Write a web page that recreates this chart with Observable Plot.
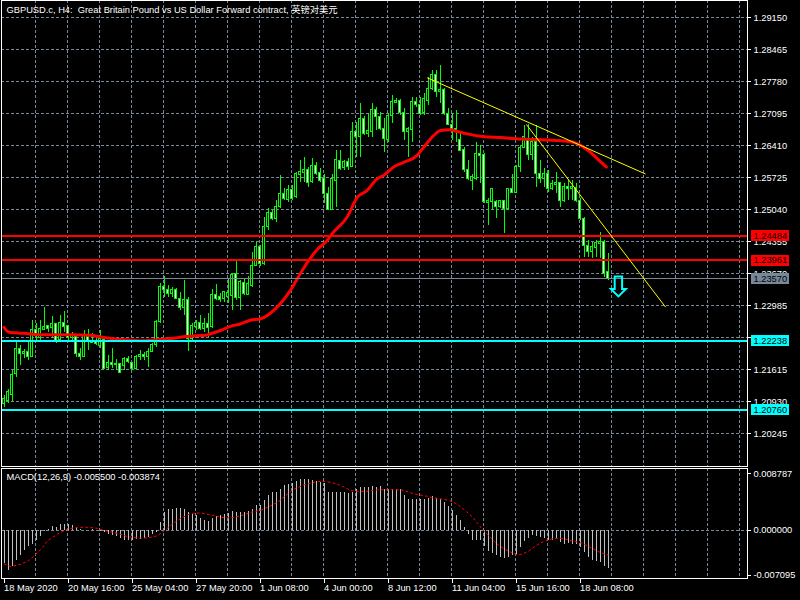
<!DOCTYPE html>
<html><head><meta charset="utf-8">
<script src="https://cdn.jsdelivr.net/npm/d3@7"></script>
<script src="https://cdn.jsdelivr.net/npm/@observablehq/plot@0.6"></script>
<style>
html,body{margin:0;padding:0;background:#000;}
#wrap{position:relative;width:800px;height:600px;overflow:hidden;background:#000;}
#wrap svg{position:absolute;left:0;display:block;}
</style></head><body><div id="wrap"></div>
<script>
// ---- DATA ----
const chartTitle = "GBPUSD.c, H4:  Great Britain Pound vs US Dollar Forward contract, 英镑对美元";
const macdTitle = "MACD(12,26,9) -0.005500 -0.003874";

const open = [1.2089,1.2096,1.2107,1.2153,1.2207,1.2196,1.2200,1.2189,1.2248,1.2230,
1.2248,1.2255,1.2252,1.2259,1.2225,1.2263,1.2255,1.2230,1.2233,1.2196,
1.2189,1.2232,1.2219,1.2222,1.2212,1.2226,1.2165,1.2176,1.2172,1.2175,
1.2170,1.2185,1.2177,1.2164,1.2189,1.2194,1.2189,1.2200,1.2214,1.2264,
1.2339,1.2333,1.2325,1.2332,1.2314,1.2295,1.2312,1.2228,1.2253,1.2263,
1.2250,1.2259,1.2253,1.2323,1.2317,1.2314,1.2317,1.2320,1.2366,1.2316,
1.2348,1.2323,1.2342,1.2385,1.2424,1.2389,1.2467,1.2497,1.2485,1.2510,
1.2539,1.2526,1.2546,1.2532,1.2578,1.2584,1.2590,1.2563,1.2599,1.2584,
1.2570,1.2539,1.2503,1.2567,1.2608,1.2594,1.2606,1.2596,1.2671,1.2661,
1.2699,1.2667,1.2670,1.2719,1.2703,1.2678,1.2653,1.2706,1.2733,1.2737,
1.2711,1.2671,1.2675,1.2735,1.2728,1.2711,1.2738,1.2764,1.2792,1.2756,
1.2760,1.2710,1.2687,1.2678,1.2653,1.2633,1.2589,1.2567,1.2570,1.2624,
1.2621,1.2519,1.2522,1.2521,1.2510,1.2523,1.2507,1.2548,1.2540,1.2595,
1.2637,1.2653,1.2621,1.2649,1.2581,1.2571,1.2581,1.2549,1.2557,1.2561,
1.2524,1.2553,1.2549,1.2551,1.2524,1.2485,1.2428,1.2414,1.2422,1.2432,
1.2435,1.2371];
const high = [1.2107,1.2119,1.2161,1.2225,1.2214,1.2205,1.2221,1.2267,1.2260,1.2267,
1.2296,1.2257,1.2276,1.2260,1.2278,1.2287,1.2257,1.2242,1.2235,1.2207,
1.2246,1.2248,1.2239,1.2232,1.2246,1.2228,1.2193,1.2207,1.2183,1.2176,
1.2189,1.2190,1.2178,1.2193,1.2203,1.2198,1.2207,1.2219,1.2267,1.2346,
1.2362,1.2342,1.2339,1.2335,1.2328,1.2353,1.2316,1.2260,1.2267,1.2278,
1.2271,1.2282,1.2333,1.2345,1.2326,1.2330,1.2357,1.2367,1.2396,1.2353,
1.2357,1.2362,1.2413,1.2435,1.2428,1.2489,1.2507,1.2503,1.2524,1.2578,
1.2550,1.2556,1.2556,1.2585,1.2610,1.2617,1.2596,1.2614,1.2606,1.2592,
1.2581,1.2553,1.2581,1.2631,1.2631,1.2610,1.2614,1.2692,1.2692,1.2731,
1.2704,1.2710,1.2731,1.2724,1.2713,1.2699,1.2710,1.2749,1.2742,1.2740,
1.2721,1.2681,1.2745,1.2745,1.2745,1.2753,1.2788,1.2803,1.2803,1.2813,
1.2764,1.2721,1.2710,1.2717,1.2671,1.2638,1.2610,1.2581,1.2649,1.2642,
1.2624,1.2528,1.2550,1.2524,1.2524,1.2524,1.2549,1.2581,1.2599,1.2642,
1.2685,1.2687,1.2660,1.2685,1.2610,1.2592,1.2589,1.2567,1.2585,1.2563,
1.2560,1.2567,1.2567,1.2560,1.2528,1.2489,1.2439,1.2435,1.2439,1.2456,
1.2439,1.2410];
const low = [1.2082,1.2089,1.2093,1.2146,1.2171,1.2186,1.2182,1.2189,1.2225,1.2225,
1.2246,1.2242,1.2228,1.2218,1.2221,1.2242,1.2225,1.2221,1.2189,1.2182,
1.2189,1.2203,1.2218,1.2214,1.2207,1.2162,1.2160,1.2164,1.2160,1.2153,
1.2160,1.2175,1.2160,1.2162,1.2182,1.2182,1.2167,1.2198,1.2210,1.2260,
1.2317,1.2317,1.2316,1.2312,1.2289,1.2278,1.2202,1.2225,1.2246,1.2246,
1.2242,1.2232,1.2250,1.2310,1.2307,1.2307,1.2303,1.2289,1.2310,1.2289,
1.2321,1.2321,1.2339,1.2382,1.2383,1.2385,1.2460,1.2482,1.2478,1.2507,
1.2524,1.2521,1.2524,1.2528,1.2563,1.2563,1.2553,1.2560,1.2578,1.2563,
1.2517,1.2503,1.2503,1.2510,1.2589,1.2589,1.2589,1.2596,1.2617,1.2617,
1.2663,1.2660,1.2660,1.2674,1.2674,1.2628,1.2649,1.2689,1.2731,1.2706,
1.2653,1.2617,1.2649,1.2724,1.2706,1.2706,1.2728,1.2760,1.2745,1.2731,
1.2706,1.2685,1.2653,1.2649,1.2631,1.2585,1.2567,1.2546,1.2567,1.2560,
1.2517,1.2471,1.2503,1.2485,1.2507,1.2453,1.2503,1.2539,1.2539,1.2585,
1.2635,1.2610,1.2610,1.2553,1.2560,1.2553,1.2542,1.2546,1.2539,1.2510,
1.2521,1.2524,1.2524,1.2521,1.2482,1.2403,1.2403,1.2400,1.2403,1.2400,
1.2360,1.2353];
const close = [1.2100,1.2114,1.2150,1.2207,1.2196,1.2200,1.2189,1.2248,1.2235,1.2250,
1.2253,1.2250,1.2259,1.2221,1.2263,1.2253,1.2230,1.2235,1.2195,1.2189,
1.2235,1.2221,1.2223,1.2218,1.2228,1.2164,1.2176,1.2173,1.2175,1.2155,
1.2185,1.2178,1.2164,1.2189,1.2194,1.2189,1.2200,1.2216,1.2264,1.2339,
1.2333,1.2325,1.2332,1.2314,1.2295,1.2312,1.2228,1.2255,1.2263,1.2250,
1.2259,1.2252,1.2323,1.2314,1.2312,1.2328,1.2327,1.2364,1.2316,1.2350,
1.2325,1.2346,1.2385,1.2424,1.2389,1.2467,1.2497,1.2485,1.2510,1.2539,
1.2528,1.2546,1.2528,1.2581,1.2585,1.2590,1.2561,1.2599,1.2581,1.2567,
1.2539,1.2503,1.2571,1.2610,1.2592,1.2606,1.2597,1.2671,1.2661,1.2699,
1.2667,1.2674,1.2719,1.2703,1.2678,1.2656,1.2706,1.2735,1.2737,1.2711,
1.2671,1.2678,1.2735,1.2728,1.2710,1.2742,1.2764,1.2792,1.2756,1.2760,
1.2710,1.2685,1.2678,1.2671,1.2631,1.2589,1.2571,1.2574,1.2624,1.2619,
1.2521,1.2524,1.2549,1.2510,1.2523,1.2507,1.2548,1.2540,1.2596,1.2637,
1.2661,1.2621,1.2649,1.2581,1.2571,1.2581,1.2549,1.2559,1.2561,1.2524,
1.2553,1.2549,1.2553,1.2524,1.2485,1.2428,1.2414,1.2424,1.2433,1.2435,
1.2367,1.2357];

// red moving average, read at positions along the bar axis
const maBar = [0,1.1,2.9,4.9,9.1,16.6,21.6,24.1,27.9,30.9,34.9,38.9,42.9,45.4,47.9,50.4,51.6,54.1,56.6,59.1,
61.6,64.1,67.9,71.6,74.1,76.2,78.6,80.4,82.0,85.8,88.3,90.8,93.3,94.9,97.4,99.9,103.3,104.9,107.4,109.1,
111.6,113.3,115.8,120.0,124.1,129.1,135.8,140.8,143.3,145.8,148.3,150.6];
const maValue = [1.2253,1.2243,1.2241,1.2240,1.2237,1.2237,1.2236,1.2232,1.2228,1.2226,1.2224,1.2227,1.2230,1.2233,1.2235,1.2236,1.2239,1.2246,1.2255,1.2260,
1.2268,1.2271,1.2293,1.2332,1.2368,1.2396,1.2422,1.2435,1.2453,1.2489,1.2531,1.2546,1.2571,1.2578,1.2596,1.2606,1.2621,1.2638,1.2663,1.2674,
1.2676,1.2672,1.2667,1.2661,1.2659,1.2656,1.2654,1.2651,1.2646,1.2633,1.2614,1.2596];

// MACD histogram, one value per bar
const macdHist = [-0.00533,-0.00628,-0.00575,-0.00481,-0.00403,-0.00314,-0.00262,-0.00220,-0.00167,-0.00105,
-0.00031,0.00003,0.00052,0.00042,0.00084,0.00094,0.00094,0.00068,0.00016,0.00002,
-0.00010,-0.00002,0.00010,-0.00003,-0.00021,-0.00037,-0.00063,-0.00089,-0.00105,-0.00141,
-0.00157,-0.00167,-0.00157,-0.00146,-0.00146,-0.00126,-0.00115,-0.00073,-0.00037,0.00120,
0.00277,0.00314,0.00329,0.00345,0.00340,0.00329,0.00277,0.00251,0.00225,0.00173,
0.00146,0.00136,0.00173,0.00209,0.00225,0.00251,0.00262,0.00288,0.00277,0.00277,
0.00277,0.00288,0.00314,0.00382,0.00392,0.00460,0.00539,0.00591,0.00591,0.00628,
0.00696,0.00711,0.00732,0.00764,0.00800,0.00800,0.00790,0.00774,0.00758,0.00748,
0.00722,0.00591,0.00591,0.00591,0.00591,0.00591,0.00575,0.00591,0.00643,0.00669,
0.00669,0.00669,0.00680,0.00669,0.00680,0.00643,0.00628,0.00628,0.00628,0.00643,
0.00539,0.00486,0.00486,0.00486,0.00471,0.00471,0.00497,0.00523,0.00502,0.00471,
0.00434,0.00366,0.00303,0.00225,0.00146,0.00042,-0.00073,-0.00157,-0.00157,-0.00167,
-0.00262,-0.00335,-0.00366,-0.00403,-0.00439,-0.00455,-0.00439,-0.00403,-0.00377,-0.00282,
-0.00178,-0.00141,-0.00089,-0.00105,-0.00115,-0.00126,-0.00167,-0.00167,-0.00141,-0.00194,
-0.00220,-0.00209,-0.00220,-0.00230,-0.00282,-0.00350,-0.00429,-0.00481,-0.00492,-0.00507,
-0.00575,-0.00600];

// MACD signal line (red dotted), read at positions along the bar axis
const sigBar = [0.1,1.8,4.3,5.9,7.6,9.3,10.9,13.4,15.9,18.4,20.9,23.4,25.9,28.4,30.9,33.4,35.9,38.4,40.1,41.8,
44.3,46.8,49.3,51.8,54.3,56.8,59.3,61.8,64.3,65.9,68.4,70.9,72.6,75.1,77.6,79.3,81.8,84.3,86.8,89.3,
91.8,94.3,96.8,99.3,100.1,101.8,103.4,105.1,106.8,109.3,110.9,112.6,113.8,115.5,117.2,118.4,119.4,120.9,122.6,123.8,
125.5,126.8,128.4,129.6,131.3,132.6,134.3,135.9,137.6,139.3,140.9,142.6,144.6,146.3,147.9,149.3,151];
const sigValue = [-0.00533,-0.00575,-0.00533,-0.00492,-0.00403,-0.00298,-0.00167,-0.00063,0.00016,0.00042,
0.00042,0.00026,-0.00021,-0.00052,-0.00105,-0.00126,-0.00126,-0.00089,-0.00010,0.00078,
0.00188,0.00262,0.00267,0.00235,0.00199,0.00188,0.00225,0.00277,0.00314,0.00356,
0.00434,0.00565,0.00643,0.00711,0.00748,0.00764,0.00748,0.00696,0.00617,0.00601,
0.00617,0.00633,0.00633,0.00628,0.00617,0.00581,0.00554,0.00539,0.00513,0.00486,
0.00471,0.00429,0.00382,0.00293,0.00199,0.00105,0.00026,-0.00073,-0.00178,-0.00246,
-0.00314,-0.00350,-0.00392,-0.00377,-0.00324,-0.00262,-0.00199,-0.00157,-0.00131,-0.00131,
-0.00152,-0.00178,-0.00209,-0.00262,-0.00314,-0.00361,-0.00390];

// horizontal price levels
const resistancePrices = [1.24484, 1.23961];
const bidPrice = [1.23570];
const supportPrices = [1.22238, 1.20760];

// trend lines (bar, price) -> (bar, price)
const trendStartBar = [105.8, 130.6];
const trendStartPrice = [1.2787, 1.2687];
const trendEndBar = [160.4, 165.4];
const trendEndPrice = [1.2581, 1.2296];

// down-arrow object
const arrowBar = [153.6];
const arrowPrice = [1.2364];

// axes
const priceTicks = [1.29150,1.28465,1.27780,1.27095,1.26410,1.25725,1.25040,1.24355,1.23670,1.22985,1.22300,1.21615,1.20930,1.20245];
const macdTicks = [0.008787, 0.000000, -0.007095];
const timeLabelBars = [0,16,32,48,64,80,96,112,128,144];
const timeLabels = ["18 May 2020","20 May 16:00","25 May 04:00","27 May 20:00","1 Jun 08:00","4 Jun 00:00","8 Jun 12:00","11 Jun 04:00","15 Jun 16:00","18 Jun 08:00"];

// ---- BUILD ----
const FONT = "'Liberation Sans', 'Noto Sans CJK SC', Arial, sans-serif";
const GRID = "#778899";
const DASH = "3,2";
const candles = open.map((o, i) => ({bar: i, open: o, high: high[i], low: low[i], close: close[i]}));
const ma = maBar.map((b, i) => ({bar: b, value: maValue[i]}));
const hist = macdHist.map((v, i) => ({bar: i, value: v}));
const signal = sigBar.map((b, i) => ({bar: b, value: sigValue[i]}));
const trends = trendStartBar.map((b, i) => ({b1: b, p1: trendStartPrice[i], b2: trendEndBar[i], p2: trendEndPrice[i]}));
const arrows = arrowBar.map((b, i) => ({bar: b, price: arrowPrice[i]}));
const timeAxis = timeLabelBars.map((b, i) => ({bar: b, label: timeLabels[i]}));
const gridBars = d3.range(1, 24).map(k => 8 * k - 0.25);
const xDomain = [-0.625, 185.875];

const arrowSymbol = {
  draw(ctx) {
    ctx.moveTo(-3.7, 1); ctx.lineTo(3.7, 1); ctx.lineTo(3.7, 13.5); ctx.lineTo(7.5, 13.5);
    ctx.lineTo(0, 21); ctx.lineTo(-7.5, 13.5); ctx.lineTo(-3.7, 13.5); ctx.closePath();
  }
};

const baseStyle = {background: "#000", color: "#fff", fontFamily: FONT, fontSize: "9.3px", overflow: "visible"};
const crisp = {shapeRendering: "crispEdges"};

const main = Plot.plot({
  width: 800, height: 467, marginLeft: 1, marginRight: 53, marginTop: 0, marginBottom: 1,
  style: baseStyle,
  x: {domain: xDomain, axis: null},
  y: {domain: [1.1954927, 1.295246], axis: null},
  marks: [
    Plot.ruleY(priceTicks, {stroke: GRID, strokeDasharray: DASH, ...crisp}),
    Plot.ruleX(gridBars, {stroke: GRID, strokeDasharray: DASH, ...crisp}),
    Plot.ruleX(candles, {x: "bar", y1: "low", y2: "high", stroke: "#00ff00", ...crisp}),
    Plot.rect(candles, {x1: d => d.bar - 0.25, x2: d => d.bar + 0.25, y1: "open", y2: "close",
      fill: d => d.close < d.open ? "#ffffff" : "#000000", stroke: "#00ff00", ...crisp}),
    Plot.line(ma, {x: "bar", y: "value", stroke: "#ff0000", strokeWidth: 3, curve: "monotone-x"}),
    Plot.ruleY(resistancePrices, {stroke: "#ff0000", strokeWidth: 2, ...crisp}),
    Plot.ruleY(bidPrice, {stroke: "#778899", strokeWidth: 1, ...crisp}),
    Plot.ruleY(supportPrices, {stroke: "#00ffff", strokeWidth: 2, ...crisp}),
    Plot.link(trends, {x1: "b1", y1: "p1", x2: "b2", y2: "p2", stroke: "#ffff00", strokeWidth: 1}),
    Plot.dot(arrows, {x: "bar", y: "price", symbol: arrowSymbol, r: 6, stroke: "#00ffff", strokeWidth: 2, fill: "none"}),
    // right price axis
    Plot.ruleY(priceTicks, {stroke: "#fff", insetLeft: 742, dx: 4, ...crisp}),
    Plot.text(priceTicks, {y: d => d, text: d => d.toFixed(5), frameAnchor: "right", textAnchor: "start", lineAnchor: "middle", dx: 6, fill: "#fff"}),
    // level price tags
    Plot.ruleY(resistancePrices, {stroke: "#ff0000", strokeWidth: 11, insetLeft: 708, dx: 42, ...crisp}),
    Plot.ruleY(bidPrice, {stroke: "#778899", strokeWidth: 11, insetLeft: 708, dx: 42, ...crisp}),
    Plot.ruleY(supportPrices, {stroke: "#00ffff", strokeWidth: 11, insetLeft: 708, dx: 42, ...crisp}),
    Plot.text([...resistancePrices, ...bidPrice, ...supportPrices], {y: d => d, text: d => d.toFixed(5), frameAnchor: "right", textAnchor: "start", lineAnchor: "middle", dx: 6, fill: "#000"}),
    Plot.frame({stroke: "#fff", ...crisp}),
    Plot.text([chartTitle], {text: d => d, frameAnchor: "top-left", textAnchor: "start", lineAnchor: "middle", dx: 5, dy: 9.5, fill: "#fff"})
  ]
});

const macd = Plot.plot({
  width: 800, height: 133, marginLeft: 1, marginRight: 53, marginTop: 1, marginBottom: 22,
  style: baseStyle,
  x: {domain: xDomain, axis: null},
  y: {domain: [-0.0076101, 0.00965], axis: null},
  marks: [
    Plot.ruleX(gridBars, {stroke: GRID, strokeDasharray: DASH, ...crisp}),
    Plot.ruleY([0], {stroke: GRID, strokeDasharray: DASH, ...crisp}),
    Plot.ruleX(hist, {x: "bar", y1: 0, y2: "value", stroke: "#c0c0c0", ...crisp}),
    Plot.line(signal, {x: "bar", y: "value", stroke: "#ff0000", strokeWidth: 1, strokeDasharray: "2,3"}),
    Plot.ruleY(macdTicks, {stroke: "#fff", insetLeft: 742, dx: 4, ...crisp}),
    Plot.text(macdTicks, {y: d => d, text: d => d.toFixed(6), frameAnchor: "right", textAnchor: "start", lineAnchor: "middle", dx: 6, fill: "#fff"}),
    Plot.ruleX(timeLabelBars, {stroke: "#fff", insetTop: 105, dy: 5, ...crisp}),
    Plot.text(timeAxis, {x: "bar", text: "label", frameAnchor: "bottom", textAnchor: "start", lineAnchor: "middle", dy: 10, fill: "#fff"}),
    Plot.frame({stroke: "#fff", ...crisp}),
    Plot.text([macdTitle], {text: d => d, frameAnchor: "top-left", textAnchor: "start", lineAnchor: "middle", dx: 5, dy: 8.7, fill: "#fff"})
  ]
});

const wrap = document.getElementById("wrap");
main.style.top = "0px";
macd.style.top = "467px";
wrap.appendChild(main);
wrap.appendChild(macd);
</script>
</body></html>
